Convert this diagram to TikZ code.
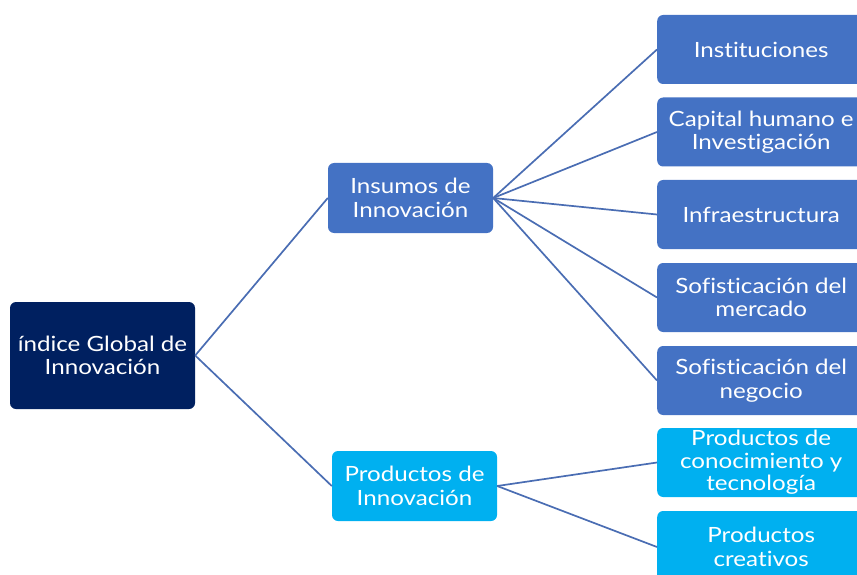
\documentclass[tikz,border=0pt]{standalone}
\usepackage{fontspec}
\setmainfont{Lato}[FakeStretch=1.15, Ligatures=NoCommon]
\definecolor{navy}{HTML}{002060}
\definecolor{midblue}{HTML}{4472C4}
\definecolor{skyblue}{HTML}{00B0F0}
\definecolor{linkblue}{HTML}{4A6DB3}
\begin{document}
\begin{tikzpicture}[x=1pt,y=-1pt,
  box/.style={rounded corners=6pt, text=white, align=center, inner sep=0pt,
    font=\fontsize{21}{23.5}\selectfont},
  link/.style={draw=linkblue, line width=1.7pt}]
\useasboundingbox (0,0) rectangle (857,575);
\clip (0,0) rectangle (857,575);
% root and middle level
\node[box, fill=navy, minimum width=185pt, minimum height=107pt] (root) at (102.5,355.5) {índice Global de\\Innovación};
\node[box, fill=midblue, minimum width=165pt, minimum height=70pt] (ins) at (410.5,198) {Insumos de\\Innovación};
\node[box, fill=skyblue, minimum width=165pt, minimum height=70pt] (prod) at (414.5,486) {Productos de\\Innovación};
% right column
\tikzset{leaf/.style={box, minimum width=208pt, minimum height=69pt, anchor=west}}
\node[leaf, fill=midblue] (i1) at (657,49.5) {Instituciones};
\node[leaf, fill=midblue] (i2) at (657,132) {Capital humano e\\Investigación};
\node[leaf, fill=midblue] (i3) at (657,214.5) {Infraestructura};
\node[leaf, fill=midblue] (i4) at (657,297.5) {Sofisticación del\\mercado};
\node[leaf, fill=midblue] (i5) at (657,380.5) {Sofisticación del\\negocio};
\node[leaf, fill=skyblue, font=\fontsize{21}{22.5}\selectfont] (p1) at (657,462.5) {Productos de\\conocimiento y\\tecnología};
\node[leaf, fill=skyblue, minimum height=72pt] (p2) at (657,547) {Productos\\creativos};
% connectors
\draw[link] (root.east) -- (ins.west);
\draw[link] (root.east) -- (prod.west);
\foreach \n in {i1,i2,i3,i4,i5} \draw[link] (ins.east) -- (\n.west);
\foreach \n in {p1,p2} \draw[link] (prod.east) -- (\n.west);
\end{tikzpicture}
\end{document}
